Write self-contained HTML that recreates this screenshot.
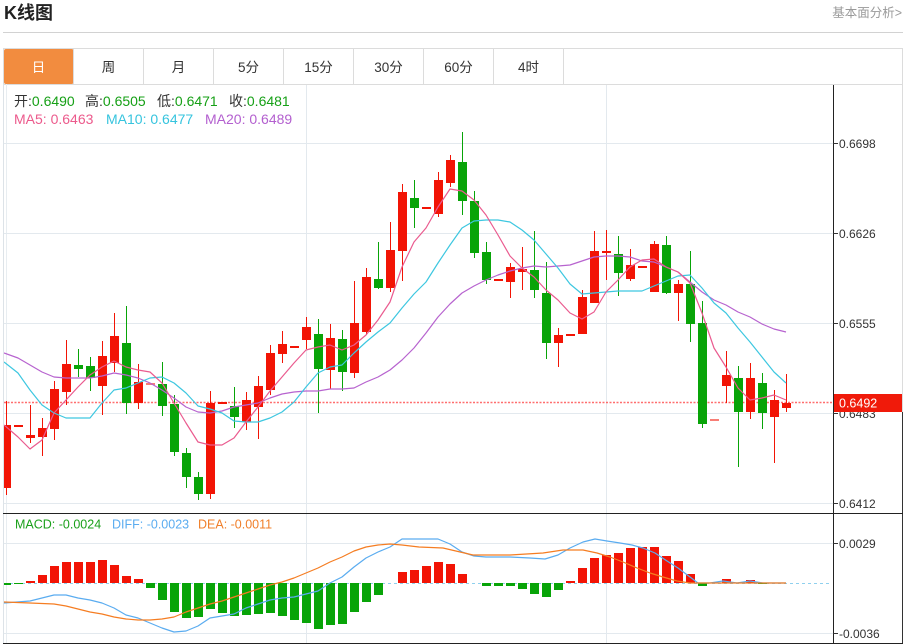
<!DOCTYPE html>
<html><head><meta charset="utf-8">
<style>
html,body{margin:0;padding:0;background:#fff;width:907px;height:644px;overflow:hidden}
svg{display:block;font-family:"Liberation Sans","Noto Sans CJK SC",sans-serif}
</style></head>
<body>
<svg width="907" height="644" viewBox="0 0 907 644" xmlns="http://www.w3.org/2000/svg">
<defs><clipPath id="pc"><rect x="4" y="85" width="829" height="558"/></clipPath></defs>
<!-- header -->
<text x="4" y="19" font-size="18" font-weight="bold" fill="#222">K线图</text>
<text x="902" y="17" font-size="12.5" fill="#999" text-anchor="end">基本面分析&gt;</text>
<line x1="3" y1="32.5" x2="903" y2="32.5" stroke="#d2d2d2" stroke-width="1"/>
<!-- tabs -->
<rect x="3.5" y="48.5" width="899" height="36" fill="#fff" stroke="#dcdcdc"/>
<rect x="4" y="49" width="69.5" height="35" fill="#f28c3f" rx="2"/>
<g stroke="#dcdcdc" shape-rendering="crispEdges">
<line x1="73.5" y1="48" x2="73.5" y2="84"/><line x1="143.5" y1="48" x2="143.5" y2="84"/><line x1="213.5" y1="48" x2="213.5" y2="84"/><line x1="283.5" y1="48" x2="283.5" y2="84"/><line x1="353.5" y1="48" x2="353.5" y2="84"/><line x1="423.5" y1="48" x2="423.5" y2="84"/><line x1="493.5" y1="48" x2="493.5" y2="84"/><line x1="563.5" y1="48" x2="563.5" y2="84"/>
</g>
<g font-size="13.5" text-anchor="middle" fill="#333">
<text x="38.5" y="72" fill="#fff">日</text><text x="108.5" y="72">周</text><text x="178.5" y="72">月</text><text x="248.5" y="72">5分</text><text x="318.5" y="72">15分</text><text x="388.5" y="72">30分</text><text x="458.5" y="72">60分</text><text x="528.5" y="72">4时</text>
</g>
<!-- chart frame -->
<g shape-rendering="crispEdges">
<line x1="3.5" y1="84" x2="3.5" y2="643" stroke="#dde3e8"/>
<line x1="6.5" y1="84" x2="6.5" y2="643" stroke="#e8edf1"/>
<line x1="902.5" y1="84" x2="902.5" y2="412" stroke="#dcdcdc"/>
<line x1="902.5" y1="412" x2="902.5" y2="644" stroke="#333"/>
<!-- grids -->
<g stroke="#e3e9ee">
<line x1="4" y1="143.5" x2="833" y2="143.5"/><line x1="4" y1="233.5" x2="833" y2="233.5"/><line x1="4" y1="323.5" x2="833" y2="323.5"/><line x1="4" y1="413.5" x2="833" y2="413.5"/><line x1="4" y1="503.5" x2="833" y2="503.5"/>
<line x1="4" y1="543.5" x2="833" y2="543.5"/><line x1="4" y1="633.5" x2="833" y2="633.5"/>
<line x1="306.5" y1="85" x2="306.5" y2="643"/><line x1="606.5" y1="85" x2="606.5" y2="643"/>
</g>
</g>
<!-- current price dotted -->
<line x1="4" y1="402.5" x2="833" y2="402.5" stroke="#f55" stroke-width="1.5" stroke-dasharray="2,1.5" opacity="0.85"/>
<g clip-path="url(#pc)" shape-rendering="crispEdges">
<!-- wicks red -->
<g fill="#f21405">
<rect x="6" y="401" width="1" height="94"/><rect x="30" y="405" width="1" height="38"/><rect x="42" y="418" width="1" height="38"/><rect x="54" y="381" width="1" height="59"/><rect x="66" y="340" width="1" height="65"/><rect x="102" y="341" width="1" height="74"/><rect x="114" y="313" width="1" height="59"/><rect x="138" y="364" width="1" height="45"/><rect x="210" y="391" width="1" height="108"/><rect x="246" y="392" width="1" height="38"/><rect x="258" y="376" width="1" height="63"/><rect x="270" y="345" width="1" height="50"/><rect x="282" y="331" width="1" height="32"/><rect x="306" y="317" width="1" height="32"/><rect x="330" y="324" width="1" height="65"/><rect x="354" y="281" width="1" height="97"/><rect x="366" y="268" width="1" height="67"/><rect x="390" y="222" width="1" height="70"/><rect x="402" y="184" width="1" height="97"/><rect x="438" y="172" width="1" height="45"/><rect x="450" y="155" width="1" height="32"/><rect x="510" y="263" width="1" height="35"/><rect x="522" y="247" width="1" height="43"/><rect x="558" y="328" width="1" height="39"/><rect x="582" y="290" width="1" height="44"/><rect x="594" y="231" width="1" height="72"/><rect x="606" y="230" width="1" height="50"/><rect x="630" y="249" width="1" height="32"/><rect x="654" y="241" width="1" height="51"/><rect x="678" y="280" width="1" height="41"/><rect x="726" y="351" width="1" height="52"/><rect x="750" y="363" width="1" height="56"/><rect x="774" y="390" width="1" height="73"/><rect x="786" y="374" width="1" height="38"/>
<!-- bodies red -->
<rect x="2" y="425" width="9" height="63"/><rect x="14" y="425" width="9" height="2"/><rect x="26" y="435" width="9" height="3"/><rect x="38" y="428" width="9" height="9"/><rect x="50" y="389" width="9" height="40"/><rect x="62" y="364" width="9" height="28"/><rect x="98" y="356" width="9" height="30"/><rect x="110" y="336" width="9" height="27"/><rect x="134" y="382" width="9" height="21"/><rect x="206" y="403" width="9" height="91"/><rect x="218" y="402" width="9" height="2"/><rect x="242" y="400" width="9" height="22"/><rect x="254" y="386" width="9" height="21"/><rect x="266" y="353" width="9" height="37"/><rect x="278" y="344" width="9" height="10"/><rect x="290" y="346" width="9" height="2"/><rect x="302" y="327" width="9" height="13"/><rect x="326" y="338" width="9" height="32"/><rect x="350" y="323" width="9" height="50"/><rect x="362" y="277" width="9" height="55"/><rect x="386" y="250" width="9" height="38"/><rect x="398" y="192" width="9" height="59"/><rect x="422" y="207" width="9" height="2"/><rect x="434" y="180" width="9" height="34"/><rect x="446" y="160" width="9" height="23"/><rect x="494" y="279" width="9" height="2"/><rect x="506" y="267" width="9" height="15"/><rect x="518" y="269" width="9" height="3"/><rect x="554" y="335" width="9" height="8"/><rect x="566" y="334" width="9" height="2"/><rect x="578" y="297" width="9" height="37"/><rect x="590" y="251" width="9" height="52"/><rect x="602" y="251" width="9" height="2"/><rect x="626" y="265" width="9" height="14"/><rect x="638" y="266" width="9" height="2"/><rect x="650" y="244" width="9" height="48"/><rect x="674" y="284" width="9" height="9"/><rect x="722" y="375" width="9" height="11"/><rect x="746" y="378" width="9" height="34"/><rect x="770" y="400" width="9" height="17"/><rect x="782" y="403" width="9" height="5"/>
</g>
<g fill="#f21405" opacity="0.55"><rect x="146" y="383" width="9" height="2"/><rect x="710" y="419" width="9" height="2"/></g>
<!-- green -->
<g fill="#08a408">
<rect x="78" y="349" width="1" height="28"/><rect x="90" y="357" width="1" height="34"/><rect x="126" y="306" width="1" height="108"/><rect x="162" y="362" width="1" height="54"/><rect x="174" y="395" width="1" height="61"/><rect x="186" y="448" width="1" height="40"/><rect x="198" y="472" width="1" height="28"/><rect x="234" y="387" width="1" height="41"/><rect x="318" y="319" width="1" height="94"/><rect x="342" y="330" width="1" height="61"/><rect x="378" y="242" width="1" height="47"/><rect x="414" y="180" width="1" height="48"/><rect x="462" y="132" width="1" height="83"/><rect x="474" y="191" width="1" height="67"/><rect x="486" y="242" width="1" height="42"/><rect x="534" y="231" width="1" height="67"/><rect x="546" y="262" width="1" height="97"/><rect x="618" y="236" width="1" height="60"/><rect x="666" y="236" width="1" height="58"/><rect x="690" y="251" width="1" height="91"/><rect x="702" y="301" width="1" height="127"/><rect x="738" y="366" width="1" height="101"/><rect x="762" y="373" width="1" height="56"/>
<rect x="74" y="365" width="9" height="4"/><rect x="86" y="366" width="9" height="12"/><rect x="122" y="343" width="9" height="60"/><rect x="158" y="384" width="9" height="22"/><rect x="170" y="404" width="9" height="48"/><rect x="182" y="453" width="9" height="24"/><rect x="194" y="477" width="9" height="17"/><rect x="230" y="406" width="9" height="11"/><rect x="314" y="334" width="9" height="35"/><rect x="338" y="339" width="9" height="33"/><rect x="374" y="279" width="9" height="9"/><rect x="410" y="198" width="9" height="10"/><rect x="458" y="162" width="9" height="39"/><rect x="470" y="201" width="9" height="52"/><rect x="482" y="252" width="9" height="28"/><rect x="530" y="270" width="9" height="20"/><rect x="542" y="293" width="9" height="50"/><rect x="614" y="254" width="9" height="19"/><rect x="662" y="245" width="9" height="48"/><rect x="686" y="284" width="9" height="40"/><rect x="698" y="323" width="9" height="101"/><rect x="734" y="378" width="9" height="34"/><rect x="758" y="383" width="9" height="30"/>
</g>
</g>
<!-- MA lines -->
<g fill="none" stroke-width="1.2" stroke-linejoin="round" clip-path="url(#pc)">
<polyline stroke="#b763cf" points="4,353 18,358 30,365 42,372 54,377 66,378 78,378 90,378 102,376 114,373 126,375 138,378 150,383 162,390 174,398 186,407 198,412 210,413 222,411 234,407 246,405 258,403 270,398 282,394 294,392 306,391 318,391 330,389 342,389 354,388 366,382 378,377 390,370 402,360 414,348 426,333 438,317 450,304 462,293 474,286 486,280 498,275 510,271 522,268 534,266 546,267 558,266 570,265 582,261 594,257 606,256 618,256 630,257 642,261 654,262 666,267 678,272 690,282 702,292 714,300 726,305 738,312 750,317 762,324 774,329 786,332"/>
<polyline stroke="#3dc7e0" points="4,362 18,373 30,390 42,405 54,413 66,418 78,418 90,418 102,403 114,390 126,388 138,383 150,378 162,377 174,383 186,393 198,406 210,409 222,413 234,421 246,422 258,422 270,418 282,412 294,402 306,387 318,373 330,367 342,365 354,353 366,342 378,332 390,323 402,308 414,294 426,282 438,263 450,245 462,228 474,221 486,220 498,220 510,222 522,230 534,240 546,254 558,268 570,284 582,294 594,293 606,292 618,291 630,291 642,291 654,286 666,281 678,276 690,275 702,288 714,303 726,313 738,328 750,342 762,357 774,372 786,383"/>
<polyline stroke="#ea5b8f" points="4,425 18,437 30,449 42,440 54,413 66,400 78,387 90,375 102,367 114,361 126,367 138,370 150,372 162,383 174,403 186,423 198,442 210,445 222,445 234,438 246,422 258,407 270,391 282,377 294,363 306,350 318,347 330,345 342,350 354,345 366,335 378,320 390,302 402,267 414,242 426,228 438,207 450,189 462,191 474,200 486,215 498,235 510,256 522,268 534,277 546,290 558,300 570,313 582,319 594,312 606,292 618,280 630,267 642,260 654,259 666,267 678,272 690,283 702,313 714,348 726,367 738,388 750,400 762,398 774,395 786,400"/>
</g>
<!-- info text -->
<g font-size="14">
<text x="14" y="106"><tspan fill="#333">开:</tspan><tspan fill="#16a016">0.6490</tspan></text>
<text x="85" y="106"><tspan fill="#333">高:</tspan><tspan fill="#16a016">0.6505</tspan></text>
<text x="157" y="106"><tspan fill="#333">低:</tspan><tspan fill="#16a016">0.6471</tspan></text>
<text x="229" y="106"><tspan fill="#333">收:</tspan><tspan fill="#16a016">0.6481</tspan></text>
<text x="14" y="124" fill="#ec5a8c">MA5: 0.6463</text>
<text x="106" y="124" fill="#36c4de">MA10: 0.6477</text>
<text x="205" y="124" fill="#b35fcf">MA20: 0.6489</text>
</g>
<!-- separators / axis -->
<g shape-rendering="crispEdges">
<line x1="3" y1="513.5" x2="903" y2="513.5" stroke="#222"/>
<line x1="3" y1="643.5" x2="903" y2="643.5" stroke="#222"/>
<line x1="833.5" y1="85" x2="833.5" y2="644" stroke="#222"/>
<g stroke="#333">
<line x1="833" y1="143.5" x2="838" y2="143.5"/><line x1="833" y1="233.5" x2="838" y2="233.5"/><line x1="833" y1="323.5" x2="838" y2="323.5"/><line x1="833" y1="413.5" x2="838" y2="413.5"/><line x1="833" y1="503.5" x2="838" y2="503.5"/><line x1="833" y1="543.5" x2="838" y2="543.5"/><line x1="833" y1="633.5" x2="838" y2="633.5"/>
</g>
</g>
<g font-size="12" fill="#333">
<text x="839" y="148">0.6698</text><text x="839" y="238">0.6626</text><text x="839" y="328">0.6555</text><text x="839" y="418">0.6483</text><text x="839" y="508">0.6412</text>
<text x="839" y="548">0.0029</text><text x="839" y="638">-0.0036</text>
</g>
<rect x="834" y="394" width="68" height="18" fill="#f01a0a"/>
<text x="839" y="407.5" font-size="12.5" fill="#fff">0.6492</text>
<!-- MACD -->
<line x1="4" y1="583.5" x2="829" y2="583.5" stroke="#8fd0ee" stroke-dasharray="3,3"/>
<g shape-rendering="crispEdges">
<g fill="#f21405">
<rect x="26" y="581" width="9" height="2"/><rect x="38" y="575" width="9" height="8"/><rect x="50" y="566" width="9" height="17"/><rect x="62" y="562" width="9" height="21"/><rect x="74" y="562" width="9" height="21"/><rect x="86" y="562" width="9" height="21"/><rect x="98" y="560" width="9" height="23"/><rect x="110" y="565" width="9" height="18"/><rect x="122" y="576" width="9" height="7"/><rect x="134" y="579" width="9" height="4"/>
<rect x="398" y="572" width="9" height="11"/><rect x="410" y="570" width="9" height="13"/><rect x="422" y="566" width="9" height="17"/><rect x="434" y="562" width="9" height="21"/><rect x="446" y="564" width="9" height="19"/><rect x="458" y="574" width="9" height="9"/>
<rect x="566" y="581" width="9" height="2"/><rect x="578" y="568" width="9" height="15"/><rect x="590" y="558" width="9" height="25"/><rect x="602" y="555" width="9" height="28"/><rect x="614" y="553" width="9" height="30"/><rect x="626" y="548" width="9" height="35"/><rect x="638" y="547" width="9" height="36"/><rect x="650" y="547" width="9" height="36"/><rect x="662" y="556" width="9" height="27"/><rect x="674" y="561" width="9" height="22"/><rect x="686" y="574" width="9" height="9"/>
<rect x="722" y="579" width="9" height="4"/><rect x="746" y="580" width="9" height="3"/>
</g>
<g fill="#08a408">
<rect x="4" y="583" width="7" height="2"/><rect x="14" y="583" width="9" height="1"/>
<rect x="146" y="583" width="9" height="5"/><rect x="158" y="583" width="9" height="17"/><rect x="170" y="583" width="9" height="29"/><rect x="182" y="583" width="9" height="35"/><rect x="194" y="583" width="9" height="34"/><rect x="206" y="583" width="9" height="26"/><rect x="218" y="583" width="9" height="30"/><rect x="230" y="583" width="9" height="33"/><rect x="242" y="583" width="9" height="32"/><rect x="254" y="583" width="9" height="31"/><rect x="266" y="583" width="9" height="30"/><rect x="278" y="583" width="9" height="33"/><rect x="290" y="583" width="9" height="37"/><rect x="302" y="583" width="9" height="40"/><rect x="314" y="583" width="9" height="46"/><rect x="326" y="583" width="9" height="42"/><rect x="338" y="583" width="9" height="41"/><rect x="350" y="583" width="9" height="29"/><rect x="362" y="583" width="9" height="19"/><rect x="374" y="583" width="9" height="12"/>
<rect x="482" y="583" width="9" height="3"/><rect x="494" y="583" width="9" height="3"/><rect x="506" y="583" width="9" height="3"/><rect x="518" y="583" width="9" height="6"/><rect x="530" y="583" width="9" height="11"/><rect x="542" y="583" width="9" height="14"/><rect x="554" y="583" width="9" height="7"/>
<rect x="698" y="583" width="9" height="3"/><rect x="758" y="583" width="9" height="1"/>
</g>
</g>
<g fill="none" stroke-width="1.2" stroke-linejoin="round" clip-path="url(#pc)">
<polyline stroke="#5aacf0" points="4,603 30,601 54,595 66,595 78,598 90,600 102,603 114,608 126,615 138,618 150,623 162,628 174,632 186,631 198,626 210,618 222,616 234,614 246,608 258,604 270,600 282,598 294,597 306,594 318,591 330,583 342,577 354,567 366,558 378,552 390,547 402,539 438,539 450,544 462,552 474,556 486,557 510,557 530,558 545,559 558,555 570,548 583,542 595,539 607,541 620,543 632,545 643,548 655,553 667,561 678,568 690,577 698,583 710,583 723,581 737,583 750,581 763,583 786,583"/>
<polyline stroke="#f57d22" points="4,602 30,603 54,604 66,606 78,609 90,612 102,614 114,617 126,619 138,620 150,620 162,619 174,617 186,612 198,608 210,604 222,601 234,597 246,593 258,589 270,585 282,582 294,578 306,573 318,568 330,562 342,557 354,551 366,547 378,545 390,544 402,545 419,547 443,548 473,555 510,555 543,553 563,550 583,550 597,553 610,557 623,562 637,568 650,573 663,577 677,581 690,583 710,583 786,583"/>
</g>
<g font-size="12.5">
<text x="15" y="528.5" fill="#1aa01a">MACD: -0.0024</text>
<text x="112" y="528.5" fill="#5aacf0">DIFF: -0.0023</text>
<text x="198" y="528.5" fill="#f07f2a">DEA: -0.0011</text>
</g>
</svg>
</body></html>
